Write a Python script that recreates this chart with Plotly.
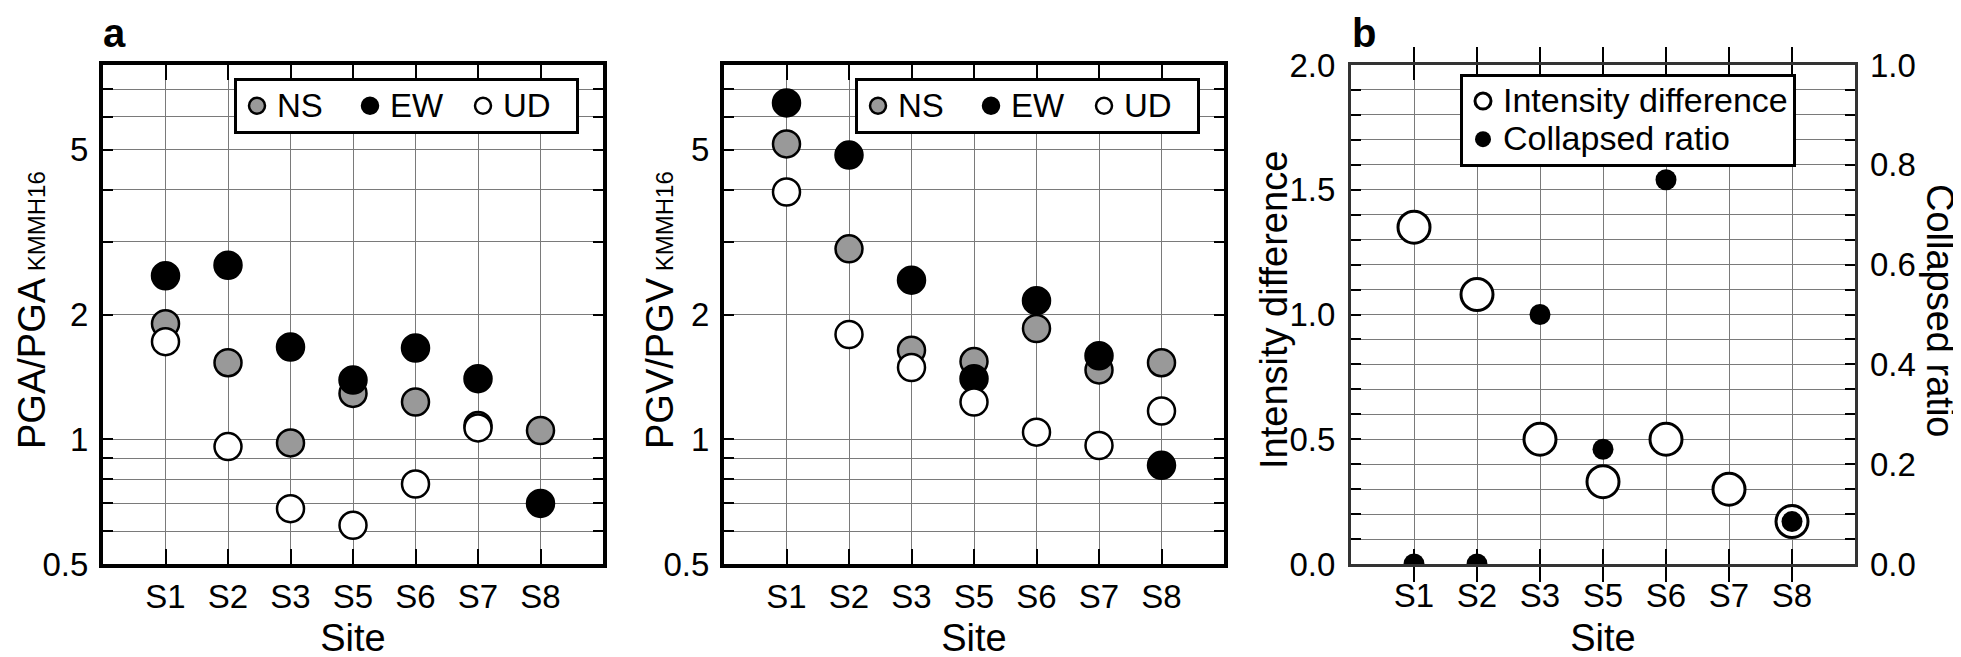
import math
import plotly.graph_objects as go

# --- data ---
sites = ["S1", "S2", "S3", "S5", "S6", "S7", "S8"]

pga_ns = [1.90, 1.53, 0.98, 1.29, 1.23, 1.08, 1.05]
pga_ew = [2.48, 2.63, 1.67, 1.39, 1.66, 1.40, 0.70]
pga_ud = [1.72, 0.96, 0.68, 0.62, 0.78, 1.065, None]

pgv_ns = [5.16, 2.88, 1.64, 1.54, 1.85, 1.47, 1.53]
pgv_ew = [6.48, 4.85, 2.42, 1.40, 2.16, 1.59, 0.865]
pgv_ud = [3.95, 1.79, 1.49, 1.23, 1.04, 0.966, 1.17]

intensity_diff = [1.35, 1.08, 0.50, 0.33, 0.50, 0.30, 0.17]
collapsed_ratio = [0.0, 0.0, 0.50, 0.23, 0.77, None, 0.085]

log_ticks = [0.5, 1, 2, 5]
log_ticktext = ["0.5", "1", "2", "5"]
log_minor = [0.6, 0.7, 0.8, 0.9, 3, 4, 6, 7]

FONT = "Liberation Sans, Arial, sans-serif"
GRID = "#7a7a7a"


def big(txt, size):
    # legend rows are spaced by the legend font; the label itself is drawn larger
    return "<span style='font-size:%dpx'>%s</span>" % (size, txt)


fig = go.Figure()

# --- panel a: PGA and PGV ratios ---
comp_style = [
    ("NS", "#999999"),
    ("EW", "black"),
    ("UD", "white"),
]
panels = [
    ("x", "y", "legend", [pga_ns, pga_ew, pga_ud]),
    ("x2", "y2", "legend2", [pgv_ns, pgv_ew, pgv_ud]),
]
for xa, ya, lg, series in panels:
    for (name, color), vals in zip(comp_style, series):
        fig.add_trace(go.Scatter(
            x=sites, y=vals, mode="markers", name=big(name, 33),
            xaxis=xa, yaxis=ya, legend=lg,
            marker=dict(size=27, color=color, line=dict(color="black", width=2.5)),
        ))

# --- panel b: intensity difference / collapsed ratio ---
fig.add_trace(go.Scatter(
    x=sites, y=intensity_diff, mode="markers", name=big("Intensity difference", 34),
    xaxis="x3", yaxis="y3", legend="legend3",
    marker=dict(size=32, color="white", line=dict(color="black", width=3)),
))
fig.add_trace(go.Scatter(
    x=sites, y=collapsed_ratio, mode="markers", name=big("Collapsed ratio", 34),
    xaxis="x3", yaxis="y4", legend="legend3",
    marker=dict(size=21, color="black", line=dict(width=0)),
))

# --- axes ---
W, H = 1961, 657
ML, MR, MT, MB = 95, 114, 57, 101
PW = W - ML - MR
PH = H - MT - MB


def xdom(p0, p1):
    return [(p0 - ML) / PW, (p1 - ML) / PW]


def px_x(p):
    return (p - ML) / PW


def px_y(p):
    return (H - MB - p) / PH


frame = dict(
    showline=True, linecolor="black", linewidth=4, mirror="allticks",
    ticks="inside", tickcolor="black", tickwidth=2,
    showgrid=True, gridcolor=GRID, gridwidth=1.3, zeroline=False,
    tickfont=dict(family=FONT, size=33, color="black"), automargin=False,
)

xcommon = dict(
    frame, type="category", categoryorder="array", categoryarray=sites,
    range=[-1, 7], ticklen=15,
    title=dict(text="Site", font=dict(family=FONT, size=38, color="black"), standoff=12),
)

log_axis = dict(
    frame, type="log", range=[math.log10(0.5), math.log10(8)],
    tickmode="array", tickvals=log_ticks, ticktext=log_ticktext, ticklen=10,
    ticklabelstandoff=4,
    minor=dict(tickmode="array", tickvals=log_minor, showgrid=True, gridcolor=GRID,
               gridwidth=1.3, ticks="inside", ticklen=10, tickcolor="black", tickwidth=2),
)

title_font = dict(family=FONT, size=38, color="black")

fig.update_layout(
    xaxis=dict(xcommon, domain=xdom(95, 595), anchor="y"),
    xaxis2=dict(xcommon, domain=xdom(716, 1216), anchor="y2"),
    xaxis3=dict(xcommon, domain=xdom(1343, 1847), anchor="y3",
                linecolor="#333333", linewidth=3),
    yaxis=dict(log_axis, anchor="x", domain=[0, 1]),
    yaxis2=dict(log_axis, anchor="x2", domain=[0, 1]),
    yaxis3=dict(frame, anchor="x3", domain=[0, 1], range=[0, 2],
                tickmode="array", tickvals=[0, 0.5, 1.0, 1.5, 2.0], tickformat=".1f",
                ticklen=10, ticklabelstandoff=6, linecolor="#333333", linewidth=3,
                minor=dict(dtick=0.1, showgrid=True, gridcolor=GRID, gridwidth=1.3,
                           ticks="inside", ticklen=10, tickcolor="black", tickwidth=2)),
    yaxis4=dict(overlaying="y3", anchor="x3", side="right", range=[0, 1],
                tickmode="array", tickvals=[0, 0.2, 0.4, 0.6, 0.8, 1.0], tickformat=".1f",
                showgrid=False, zeroline=False, showline=False, ticks="",
                ticklabelstandoff=14, automargin=False,
                tickfont=dict(family=FONT, size=33, color="black")),
)

legend_common = dict(
    bgcolor="white", bordercolor="black", borderwidth=3,
    xanchor="left", yanchor="top", itemwidth=30,
)
fig.update_layout(
    legend=dict(legend_common, orientation="h", entrywidth=68,
                font=dict(family=FONT, size=28, color="black"),
                x=px_x(226), y=px_y(70)),
    legend2=dict(legend_common, orientation="h", entrywidth=68,
                 font=dict(family=FONT, size=28, color="black"),
                 x=px_x(847), y=px_y(70)),
    legend3=dict(legend_common, orientation="v", entrywidth=355,
                 font=dict(family=FONT, size=27, color="black"),
                 x=px_x(1452), y=px_y(66)),
)

# axis titles placed as text so they sit where the original has them
y_titles = [
    ("PGA/PGA<span style='font-size:24px'> KMMH16</span>", 24, -90),
    ("PGV/PGV<span style='font-size:24px'> KMMH16</span>", 652, -90),
    ("Intensity difference", 1266, -90),
    ("Collapsed ratio", 1932, 90),
]
for txt, xc, ang in y_titles:
    fig.add_annotation(text=txt, xref="paper", yref="paper", x=px_x(xc), y=px_y(302),
                       xanchor="center", yanchor="middle", textangle=ang,
                       showarrow=False, font=title_font)

# panel letters
for letter, xl in [("a", 93), ("b", 1342)]:
    fig.add_annotation(text="<b>%s</b>" % letter, xref="paper", yref="paper",
                       x=px_x(xl), y=px_y(1), xanchor="left", yanchor="top",
                       showarrow=False, font=dict(family=FONT, size=40, color="black"))

fig.update_layout(
    width=W, height=H, margin=dict(l=ML, r=MR, t=MT, b=MB),
    paper_bgcolor="white", plot_bgcolor="white",
    font=dict(family=FONT, color="black"),
)

fig.write_html("out.html")
